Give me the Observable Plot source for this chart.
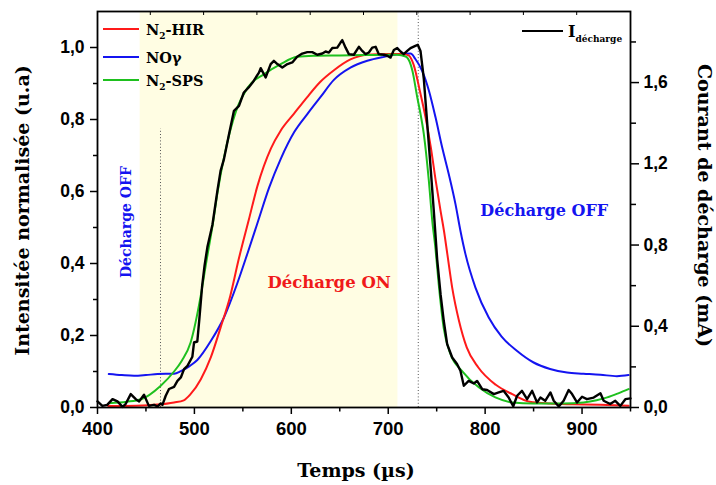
<!DOCTYPE html>
<html><head><meta charset="utf-8">
<script src="https://cdn.jsdelivr.net/npm/d3@7"></script>
<script src="https://cdn.jsdelivr.net/npm/@observablehq/plot@0.6"></script>
<style>
body{margin:0;background:#fff;}
#chart{width:716px;height:485px;}
</style></head><body><div id="chart"></div>
<script>
// ---- data (time in µs, normalized intensity, current in mA) ----
const hirT = [411,440,462,479,489,496,506.5,517,527,537,546,556,565,579,589,603,616,630,644,661,678,700,715,721,726,733,738.5,744,749,754,757.5,761,766,773,781,793,811,828,846,867,890,919,948];
const hirV = [0.004,0.005,0.008,0.014,0.02,0.037,0.078,0.14,0.222,0.31,0.415,0.52,0.615,0.72,0.769,0.817,0.861,0.905,0.937,0.967,0.98,0.982,0.982,0.978,0.954,0.875,0.806,0.722,0.63,0.546,0.491,0.426,0.333,0.241,0.167,0.111,0.063,0.037,0.016,0.011,0.009,0.0075,0.005];

const sptT = [412,430,445,465,479,487,496,506.5,512,519,524,530.5,543,555,572,589,606,623,650,680,700,709,718,723,725,730,733,736.7,741.9,745.4,748.8,752.2,757.3,764.3,776,793.4,810.6,828,850,880,901.6,915,926,938,948];
const sptV = [0.012,0.016,0.023,0.06,0.10,0.13,0.18,0.31,0.40,0.51,0.60,0.694,0.824,0.889,0.926,0.954,0.974,0.977,0.978,0.979,0.98,0.98,0.975,0.954,0.935,0.861,0.82,0.76,0.63,0.52,0.44,0.34,0.22,0.148,0.102,0.056,0.028,0.014,0.011,0.011,0.014,0.02,0.028,0.04,0.051];

const noT = [411.6,425,437.7,450,462,479,486,495,503,517,530.5,544,555,566,577,589,603,616.5,630,643.9,661,678.4,695.5,710,723,728,735,742,748.8,755.7,762.5,769.4,774.5,779.7,790,803.7,817,833,850,867,884.5,901.6,919,936,948];
const noV = [0.093,0.09,0.088,0.09,0.093,0.094,0.101,0.115,0.132,0.185,0.25,0.343,0.43,0.52,0.61,0.69,0.765,0.815,0.862,0.91,0.944,0.963,0.974,0.981,0.983,0.968,0.935,0.88,0.806,0.722,0.648,0.565,0.491,0.426,0.333,0.25,0.197,0.157,0.125,0.107,0.097,0.094,0.091,0.087,0.09];

const curT = [400,405,410,415.5,420.6,425.8,429,434.3,439.5,443,448,453,458.4,462,465.3,467,470.4,473.8,479,482.5,486,489.3,492.8,497.9,499.6,503,505,508,510.5,513.4,518.6,523.7,527,530.5,535.7,540.8,546,551,556,560,566.6,568.4,573.5,578.7,582,585.6,590.7,596,601,606,611.3,616.5,621.6,626.8,632,635.4,638.8,642.3,647.4,650.8,652.6,656,659.4,664.5,669.7,673.2,676.6,680,683.5,687,690.3,695.5,699,702.4,705.8,709.3,712.7,716,719.6,723,728,730.5,733.3,736.7,740.2,743.6,747,750.5,754,757.3,760.8,766,771,774.5,778,783,788.3,791.7,797,802,809,814,819,824.3,829,833,838,843.3,848.5,853.6,857,862,867.4,870.8,876,881,886.2,889.7,894.8,900,905,912,919,922.3,929,934.3,939.5,944.7,950];
const curI = [0.030,0.008,0.013,0.041,0.030,0.003,0.017,0.066,0.041,0.030,0.063,0.008,0.013,0.005,0.020,0.013,0.058,0.091,0.102,0.131,0.148,0.189,0.205,0.25,0.32,0.325,0.43,0.60,0.70,0.79,0.90,1.067,1.165,1.223,1.346,1.461,1.485,1.551,1.576,1.60,1.649,1.671,1.625,1.691,1.707,1.691,1.674,1.691,1.699,1.727,1.743,1.75,1.75,1.737,1.743,1.753,1.748,1.770,1.772,1.797,1.809,1.772,1.74,1.737,1.776,1.756,1.74,1.748,1.772,1.776,1.74,1.737,1.732,1.723,1.76,1.77,1.753,1.74,1.756,1.77,1.781,1.786,1.756,1.62,1.40,1.19,0.97,0.73,0.558,0.427,0.312,0.246,0.214,0.181,0.107,0.131,0.118,0.131,0.09,0.086,0.066,0.074,0.082,0.049,0.006,0.058,0.082,0.041,0.082,0.025,0.049,0.033,0.074,0.033,0.005,0.033,0.086,0.066,0.025,0.053,0.041,0.049,0.07,0.033,0.017,0.033,0.008,0.041,0.045];

const onWindow = [444, 710];          // shaded "Décharge ON" interval
const markerTimes = [465, 731];       // dotted markers
const markerTop = [0.774, 1.1];

const xDomain = [400, 950];
const yDomain = [0, 1.1];
const iDomainMax = 1.95;              // right axis (mA)
const xMajor = [400,500,600,700,800,900];
const xMinor = [450,550,650,750,850,950];
const topTicks = [455,510,565,620,675,730,785,840,895];
const yMajor = [0,0.2,0.4,0.6,0.8,1.0];
const yMinor = [0.1,0.3,0.5,0.7,0.9];
const iMajor = [0,0.4,0.8,1.2,1.6];
const iMinor = [0.2,0.6,1.0,1.4,1.8];

// ---- build ----
const k = yDomain[1] / iDomainMax;
const fmt = d => (Math.round(d*10)/10).toFixed(1).replace(".", ",");
const mk = (T, V, s) => T.map((t, i) => ({t, v: V[i] * s}));
const hir = mk(hirT, hirV, 1), spt = mk(sptT, sptV, 1), no = mk(noT, noV, 1), cur = mk(curT, curI, k);
const serif = "DejaVu Serif, serif";
const sans = "Liberation Sans, Arial, sans-serif";
const titleSize = 19;

const plot = Plot.plot({
  width: 716, height: 485,
  marginLeft: 97, marginRight: 86, marginTop: 11, marginBottom: 78,
  style: {fontFamily: sans, fontWeight: "bold", fontSize: "17.5px", color: "#000", background: "#fff"},
  x: {domain: xDomain},
  y: {domain: yDomain},
  marks: [
    Plot.rect([onWindow], {x1: d => d[0], x2: d => d[1], fill: "#fffde3"}),
    Plot.ruleX(markerTimes, {x: d => d, y1: 0, y2: (d, i) => markerTop[i], stroke: "#555", strokeWidth: 1, strokeDasharray: "1,2.2"}),
    Plot.line(no, {x: "t", y: "v", stroke: "#1414f0", strokeWidth: 2, curve: "monotone-x"}),
    Plot.line(hir, {x: "t", y: "v", stroke: "#ff1a1a", strokeWidth: 2, curve: "monotone-x"}),
    Plot.line(spt, {x: "t", y: "v", stroke: "#1ec01e", strokeWidth: 2, curve: "monotone-x"}),
    Plot.line(cur, {x: "t", y: "v", stroke: "#000", strokeWidth: 2.4}),
    Plot.text([{t: 639, v: 0.347, s: "Décharge ON"}], {x: "t", y: "v", text: "s", fill: "#f01a1a", fontFamily: serif, fontWeight: "bold", fontSize: 16.5}),
    Plot.text([{t: 861, v: 0.546, s: "Décharge OFF"}], {x: "t", y: "v", text: "s", fill: "#1414f0", fontFamily: serif, fontWeight: "bold", fontSize: 16}),
    Plot.text([{t: 429.5, v: 0.515, s: "Décharge OFF"}], {x: "t", y: "v", text: "s", rotate: -90, fill: "#1414f0", fontFamily: serif, fontWeight: "bold", fontSize: 14}),
    Plot.frame({stroke: "#000", strokeWidth: 1.8}),
    Plot.axisX(xMajor, {anchor: "bottom", tickSize: 7, tickPadding: 7, strokeWidth: 1.5, fontSize: 18.5, label: null}),
    Plot.axisX(xMinor, {anchor: "bottom", tickSize: 4.5, strokeWidth: 1.5, tickFormat: () => "", label: null}),
    Plot.axisY(yMajor, {anchor: "left", tickSize: 7, tickPadding: 6, strokeWidth: 1.5, tickFormat: fmt, label: null}),
    Plot.axisY(yMinor, {anchor: "left", tickSize: 4, strokeWidth: 1.5, tickFormat: () => "", label: null}),
    Plot.axisY(iMajor.map(d => d * k), {anchor: "right", tickSize: 8, tickPadding: 5, strokeWidth: 1.5, tickFormat: d => fmt(d / k), label: null}),
    Plot.axisY(iMinor.map(d => d * k), {anchor: "right", tickSize: 5, strokeWidth: 1.5, tickFormat: () => "", label: null}),
    Plot.text(["Intensitée normalisée (u.a)"], {frameAnchor: "left", textAnchor: "middle", lineAnchor: "middle", dx: -75, dy: 1, rotate: -90, fontFamily: serif, fontWeight: "bold", fontSize: titleSize, fill: "#000"}),
    Plot.text(["Courant de décharge (mA)"], {frameAnchor: "right", textAnchor: "middle", lineAnchor: "middle", dx: 74, dy: -4, rotate: 90, fontFamily: serif, fontWeight: "bold", fontSize: titleSize, fill: "#000"}),
    Plot.text(["Temps (µs)"], {frameAnchor: "bottom", textAnchor: "middle", lineAnchor: "middle", dx: -8, dy: 63, fontFamily: serif, fontWeight: "bold", fontSize: titleSize, fill: "#000"})
  ]
});
document.getElementById("chart").appendChild(plot);

// top inward ticks and legend, positioned with the plot's own scales
const svg = d3.select(plot);
const xs = plot.scale("x");
const g = svg.append("g").attr("text-anchor", "start");
topTicks.forEach(t => {
  const px = xs.apply(t);
  g.append("line").attr("x1", px).attr("x2", px).attr("y1", 11).attr("y2", 15).attr("stroke", "#000").attr("stroke-width", 1);
});
const legend = [
  {name: "N", sub: "2", rest: "-HIR", color: "#ff1a1a", y: 29},
  {name: "NOγ", sub: "", rest: "", color: "#1414f0", y: 57},
  {name: "N", sub: "2", rest: "-SPS", color: "#1ec01e", y: 80}
];
legend.forEach(d => {
  g.append("line").attr("x1", 103).attr("x2", 139).attr("y1", d.y).attr("y2", d.y).attr("stroke", d.color).attr("stroke-width", 2);
  const t = g.append("text").attr("x", 146).attr("y", d.y + 5.5).attr("text-anchor", "start")
    .attr("font-family", serif).attr("font-weight", "bold").attr("font-size", 14.5).attr("fill", "#000");
  t.append("tspan").text(d.name);
  if (d.sub) t.append("tspan").attr("dy", 4).attr("font-size", 9).text(d.sub);
  if (d.rest) t.append("tspan").attr("dy", d.sub ? -4 : 0).text(d.rest);
});
g.append("line").attr("x1", 522).attr("x2", 563).attr("y1", 31).attr("y2", 31).attr("stroke", "#000").attr("stroke-width", 2.2);
const ti = g.append("text").attr("x", 568).attr("y", 37).attr("text-anchor", "start")
  .attr("font-family", serif).attr("font-weight", "bold").attr("font-size", 16).attr("fill", "#000");
ti.append("tspan").text("I");
ti.append("tspan").attr("dy", 5).attr("font-size", 9).text("décharge");
</script>
</body></html>
